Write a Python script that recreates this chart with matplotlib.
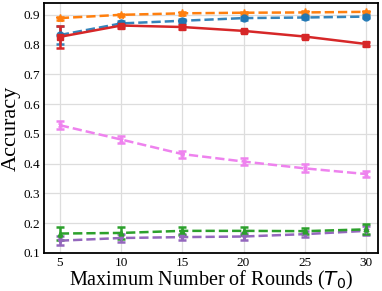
import matplotlib
matplotlib.use("Agg")
import matplotlib.pyplot as plt

rounds = [5, 10, 15, 20, 25, 30]
orange = [0.889, 0.900, 0.905, 0.907, 0.908, 0.910]
orange_err = [0.005, 0.004, 0.004, 0.004, 0.004, 0.004]
blue = [0.832, 0.871, 0.880, 0.889, 0.891, 0.894]
blue_err = [0.030, 0.008, 0.006, 0.005, 0.005, 0.005]
red = [0.826, 0.864, 0.859, 0.846, 0.827, 0.802]
red_err = [0.037, 0.008, 0.008, 0.004, 0.004, 0.006]
pink = [0.529, 0.481, 0.432, 0.407, 0.384, 0.365]
pink_err = [0.013, 0.013, 0.012, 0.012, 0.013, 0.011]
green = [0.165, 0.167, 0.174, 0.174, 0.173, 0.179]
green_err = [0.022, 0.020, 0.014, 0.013, 0.011, 0.017]
purple = [0.141, 0.150, 0.153, 0.155, 0.163, 0.174]
purple_err = [0.015, 0.012, 0.010, 0.012, 0.010, 0.015]

plt.rcParams['font.family'] = ['Liberation Serif', 'DejaVu Serif']
plt.rcParams['mathtext.fontset'] = 'dejavusans'

fig, ax = plt.subplots(figsize=(3.82, 2.91), dpi=100)
fig.subplots_adjust(left=0.115, right=0.99, top=0.99, bottom=0.131)

kw = dict(linewidth=1.8, elinewidth=1.8, capsize=3, capthick=1.8)
ax.errorbar(rounds, orange, yerr=orange_err, color='#ff7f0e', linestyle='--', marker='*', markersize=6, **kw)
ax.errorbar(rounds, blue, yerr=blue_err, color='#1f77b4', linestyle='--', marker='o', markersize=5, alpha=0.9, **kw)
ax.errorbar(rounds, red, yerr=red_err, color='#d62728', linestyle='-', marker='s', markersize=4.5, **kw)
ax.errorbar(rounds, pink, yerr=pink_err, color='violet', linestyle='--', marker='x', markersize=3.5, **kw)
ax.errorbar(rounds, purple, yerr=purple_err, color='#9467bd', linestyle='--', marker='v', markersize=3.5, **kw)
ax.errorbar(rounds, green, yerr=green_err, color='#2ca02c', linestyle='--', marker='^', markersize=3.5, **kw)

ax.set_xlim(3.7, 31.0)
ax.set_ylim(0.1, 0.94)
ax.set_xticks(rounds)
ax.set_yticks([0.1, 0.2, 0.3, 0.4, 0.5, 0.6, 0.7, 0.8, 0.9])
ax.grid(True, color='#dddddd', linewidth=0.9)
ax.set_axisbelow(True)
ax.tick_params(labelsize=9.5, length=0, pad=3)
for s in ax.spines.values():
    s.set_linewidth(1.3)
    s.set_color('black')
ax.set_xlabel(r'Maximum Number of Rounds ($T_0$)', fontsize=14.5)
ax.set_ylabel('Accuracy', fontsize=16)
ax.xaxis.set_label_coords(0.5, -0.066)
ax.yaxis.set_label_coords(-0.068, 0.5)

fig.savefig('out.png', dpi=100)
